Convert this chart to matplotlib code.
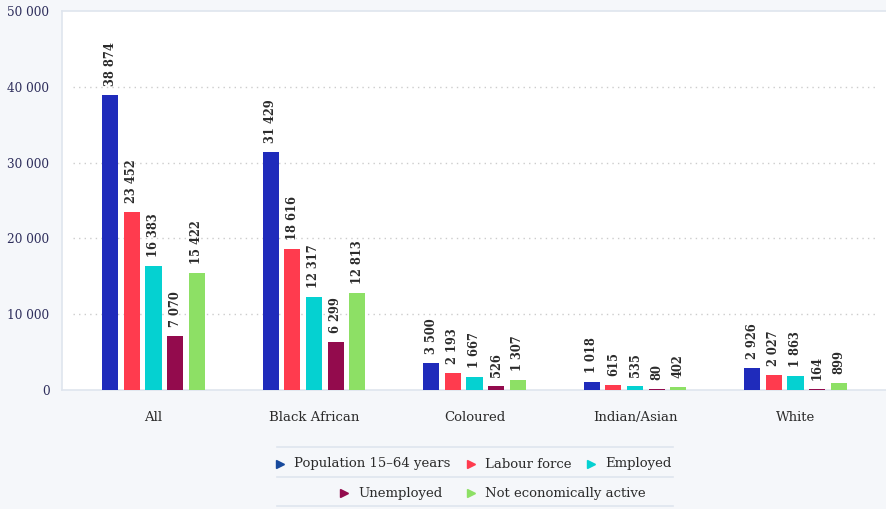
import matplotlib.pyplot as plt
import numpy as np
from matplotlib.lines import Line2D

groups = ["All", "Black African", "Coloured", "Indian/Asian", "White"]
series = ["Population 15–64 years", "Labour force", "Employed",
          "Unemployed", "Not economically active"]
population = [38874, 31429, 3500, 1018, 2926]
labour_force = [23452, 18616, 2193, 615, 2027]
employed = [16383, 12317, 1667, 535, 1863]
unemployed = [7070, 6299, 526, 80, 164]
not_active = [15422, 12813, 1307, 402, 899]
values = [population, labour_force, employed, unemployed, not_active]

colors = ["#1f2bbb", "#ff3b4e", "#05d1d1", "#930b4d", "#8de065"]
legend_colors = ["#17499c", "#ff3b4e", "#05d1d1", "#930b4d", "#8de065"]

def fmt(v):
    return f"{v:,}".replace(",", " ")

plt.rcParams["font.family"] = ["DejaVu Serif"]

fig = plt.figure(figsize=(8.87, 5.09), dpi=100)
fig.patch.set_facecolor("#f5f7fa")
ax = fig.add_axes([62 / 887, 119 / 509, 825 / 887, 379 / 509])
ax.set_facecolor("white")

x = np.arange(len(groups))
pitch = 0.135
width = 0.1
for i, (vals, c) in enumerate(zip(values, colors)):
    pos = x + (i - 2) * pitch
    ax.bar(pos, vals, width=width, color=c, zorder=3)
    for px, v in zip(pos, vals):
        ax.annotate(fmt(v), (px, v), xytext=(0, 6.5), textcoords="offset points",
                    rotation=90, ha="center", va="bottom", fontsize=8.3,
                    fontweight="bold", color="#2b2b2b")

ax.set_xlim(-0.57, 4.57)
ax.set_ylim(0, 50000)
ax.set_yticks(range(0, 50001, 10000))
ax.set_yticklabels([fmt(t) for t in range(0, 50001, 10000)])
ax.set_xticks(x)
ax.set_xticklabels(groups)
ax.tick_params(axis="y", length=0, pad=9, labelsize=8.7, labelcolor="#2e2e5c")
ax.tick_params(axis="x", length=0, pad=15, labelsize=9.5, labelcolor="#2b2b2b")
for yv in range(10000, 50000, 10000):
    ax.plot([-0.5, 4.5], [yv, yv], ls=(0, (1, 3)), lw=1, color="#cccccc",
            zorder=1)

ax.spines["right"].set_visible(False)
for s in ["left", "top", "bottom"]:
    ax.spines[s].set_color("#dfe5ee")
    ax.spines[s].set_linewidth(1.2)

# legend drawn by hand: two centred rows separated by thin rules
for yy in [447, 477, 506]:
    fig.add_artist(Line2D([277 / 887, 673 / 887], [1 - yy / 509] * 2,
                          color="#dfe5ee", lw=1.2))
rows = [[0, 1, 2], [3, 4]]
row_y = [464, 493]
starts = [[280, 471, 591], [344, 471]]
for r, idxs in enumerate(rows):
    yf = 1 - row_y[r] / 509
    for k, i in enumerate(idxs):
        xs = starts[r][k]
        fig.add_artist(Line2D([xs / 887], [yf], marker=">", ms=6, lw=0,
                              color=legend_colors[i]))
        fig.text((xs + 14) / 887, yf, series[i], fontsize=9.5, va="center",
                 ha="left", color="#2b2b2b")

fig.savefig("out.png", dpi=100, facecolor=fig.get_facecolor())
